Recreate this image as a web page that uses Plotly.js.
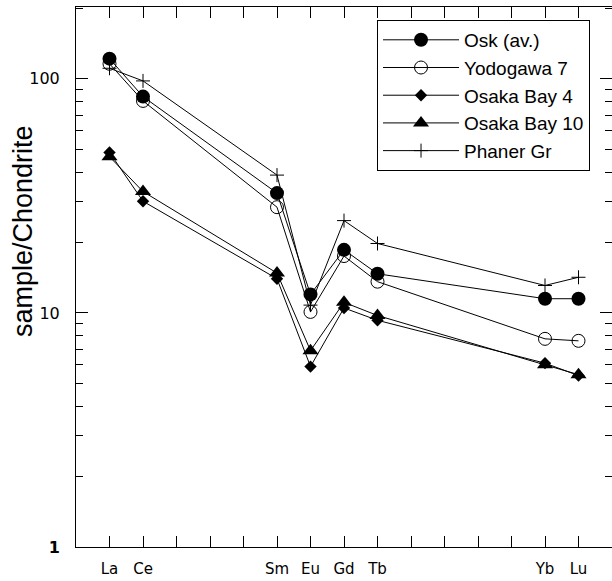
<!DOCTYPE html>
<html>
<head>
<meta charset="utf-8">
<script src="https://cdn.plot.ly/plotly-3.0.1.min.js"></script>
<style>html,body{margin:0;padding:0;background:#fff;}#plot{width:612px;height:581px;}</style>
</head>
<body>
<div id="plot"></div>
<script>
// REE sequence (tick positions) and labelled ticks
const elements = ['La','Ce','Pr','Nd','Pm','Sm','Eu','Gd','Tb','Dy','Ho','Er','Tm','Yb','Lu'];
const tickLabels = ['La','Ce','','','','Sm','Eu','Gd','Tb','','','','','Yb','Lu'];
// measured elements
const measured = ['La','Ce','Sm','Eu','Gd','Tb','Yb','Lu'];
// chondrite-normalised values
const oskAv      = [122, 84, 32.5, 12.0, 18.6, 14.7, 11.5, 11.5];
const yodogawa7  = [116, 80.5, 28.3, 10.1, 17.5, 13.6, 7.75, 7.6];
const osakaBay4  = [48.5, 30.0, 14.0, 5.9, 10.5, 9.3, 6.1, 5.4];
const osakaBay10 = [46.5, 33.0, 14.8, 6.9, 11.1, 9.75, 6.0, 5.45];
const phanerGr   = [111, 98, 38.8, 10.8, 24.8, 19.8, 13.1, 14.2];

const yMajor = [1, 10, 100];
const yMajorText = ['<b>1</b>', '10', '100'];
const yMinor = [2,3,4,5,6,7,8,9,20,30,40,50,60,70,80,90,200];

const xs = measured.map(e => elements.indexOf(e));
const lineStyle = {color: '#000', width: 1};

function tr(name, y, marker, grp) {
  return {x: xs, y: y, name: name, type: 'scatter', mode: 'lines+markers',
          line: lineStyle, marker: marker, legendgroup: grp, cliponaxis: false};
}

const data = [
  tr('Osk (av.)', oskAv, {symbol: 'circle', size: 14, color: '#000'}, 'a'),
  tr('Yodogawa 7', yodogawa7, {symbol: 'circle-open', size: 13, color: '#000', line: {width: 1, color: '#000'}}, 'b'),
  tr('Osaka Bay 4', osakaBay4, {symbol: 'diamond', size: 9.5, color: '#000'}, 'c'),
  tr('Osaka Bay 10', osakaBay10, {symbol: 'triangle-up', size: 14, color: '#000'}, 'd'),
  tr('Phaner Gr', phanerGr, {symbol: 'cross-thin-open', size: 10, color: '#000', line: {width: 1, color: '#000'}}, 'e')
];

const layout = {
  width: 612, height: 581,
  margin: {l: 76, r: 0, t: 7, b: 34},
  paper_bgcolor: '#fff', plot_bgcolor: '#fff',
  showlegend: true,
  legend: {
    x: 0.5616, y: 0.976, xanchor: 'left', yanchor: 'top',
    bordercolor: '#000', borderwidth: 1, bgcolor: '#fff',
    font: {family: 'Liberation Sans', size: 19, color: '#000'},
    traceorder: 'grouped', tracegroupgap: 0, itemwidth: 76
  },
  xaxis: {
    range: [-1, 15], tickmode: 'array', tickvals: elements.map((e, i) => i), ticktext: tickLabels,
    ticks: 'inside', ticklen: 11, tickcolor: '#000', tickwidth: 1,
    showline: true, linecolor: '#000', linewidth: 1, mirror: 'ticks',
    showgrid: false, zeroline: false, ticklabelstandoff: 8,
    tickfont: {family: 'DejaVu Sans', size: 15, color: '#000'}
  },
  yaxis: {
    type: 'log', range: [0, 2.307], tickmode: 'array', tickvals: yMajor, ticktext: yMajorText,
    ticks: 'inside', ticklen: 12, tickcolor: '#000', tickwidth: 1,
    minor: {tickmode: 'array', tickvals: yMinor, ticks: 'inside', ticklen: 7, tickcolor: '#000', tickwidth: 1, showgrid: false},
    showline: true, linecolor: '#000', linewidth: 1, mirror: 'ticks',
    showgrid: false, zeroline: false, ticklabelstandoff: 12,
    tickfont: {family: 'DejaVu Sans', size: 16, color: '#000'}
  },
  annotations: [{
    text: 'sample/Chondrite', xref: 'paper', yref: 'paper', x: -0.099, y: 0.585,
    xanchor: 'center', yanchor: 'middle', textangle: -90, showarrow: false,
    font: {family: 'Liberation Sans', size: 27, color: '#000'}
  }]
};

Plotly.newPlot('plot', data, layout, {displayModeBar: false, staticPlot: true});
</script>
</body>
</html>
